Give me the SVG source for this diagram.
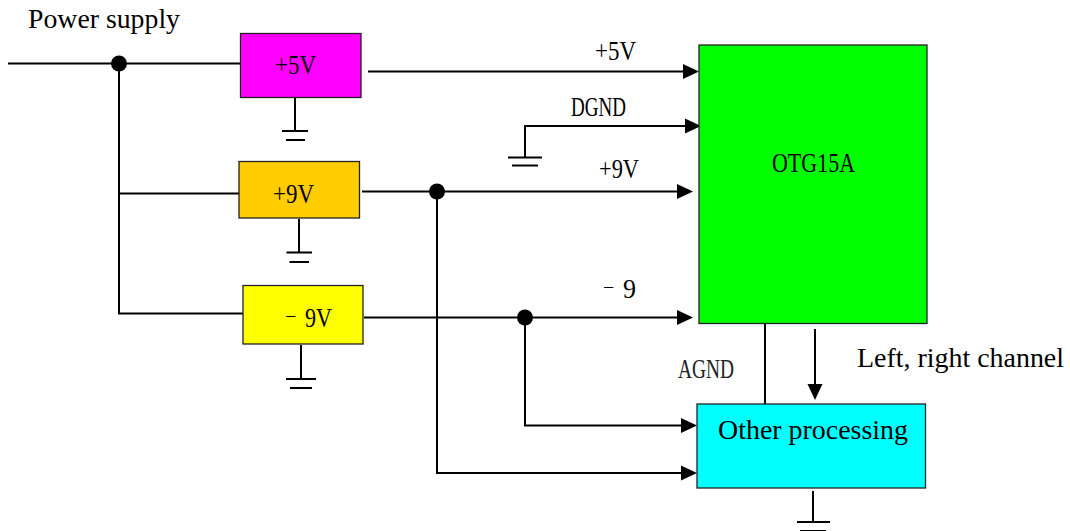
<svg xmlns="http://www.w3.org/2000/svg" width="1070" height="531" viewBox="0 0 1070 531">
<style>
.box{stroke:#222;stroke-width:1.3}
.w{fill:none;stroke:#000;stroke-width:2}
.d{fill:#000;stroke:none}
.a{fill:#000;stroke:none}
text{fill:#000;font-family:"Liberation Serif","Noto Sans CJK SC",serif}
.en{font-size:27.8px}
.cn{font-size:28px;font-weight:400}
.m{font-size:20px}
</style>
<rect width="1070" height="531" fill="#fff"/>
<g id="connectors">
<path class="w" d="M8 63.5H240M119 63.5V313.5H243M119 193.5H239"/>
<path class="w" d="M295 97V130M282 131H308M286 140H305"/>
<path class="w" d="M299 219V252M286.500 252.500H312M289.500 262H309"/>
<path class="w" d="M301 345V379M286 379H316M290 388H312"/>
<path class="w" d="M368 71.500H685"/>
<path class="a" d="M683 64L699 71.500L683 79Z"/>
<path class="w" d="M508 157.500H542M512 165.500H538M525 157.500V126H687"/>
<path class="a" d="M685 118.500L701 126L685 133.500Z"/>
<path class="w" d="M362 191.500H679"/>
<path class="a" d="M677 184L693 191.500L677 199Z"/>
<path class="w" d="M364 317.500H679"/>
<path class="a" d="M677 310L693 317.500L677 325Z"/>
<path class="w" d="M437 191.500V473H683"/>
<path class="a" d="M681 465.500L697 473L681 480.500Z"/>
<path class="w" d="M525 317.500V425.500H683"/>
<path class="a" d="M681 418L697 425.500L681 433Z"/>
<path class="w" d="M765 323V404"/>
<path class="w" d="M815 329V386"/>
<path class="a" d="M807.500 384L815 400L822.500 384Z"/>
<path class="w" d="M813 491V522M797 522H830M800 531H826"/>
<circle class="d" cx="119" cy="63.500" r="8"/>
<circle class="d" cx="437" cy="191.500" r="8"/>
<circle class="d" cx="525" cy="317.500" r="8"/>
</g>
<g id="label-power"><text class="en" x="28" y="28" textLength="152" lengthAdjust="spacingAndGlyphs">Power supply</text></g>
<g id="node-5v"><rect class="box" x="240.500" y="33.500" width="120.500" height="64" fill="#f0f"/><text class="cn" x="275" y="74" textLength="41" lengthAdjust="spacingAndGlyphs">+5V</text></g>
<g id="node-9v"><rect class="box" x="239" y="161.500" width="120.500" height="56.500" fill="#fc0"/><text class="cn" x="273" y="203" textLength="41" lengthAdjust="spacingAndGlyphs">+9V</text></g>
<g id="node-m9v"><rect class="box" x="243" y="285.500" width="120" height="58.500" fill="#ff0"/><text class="cn" x="285" y="327" xml:space="preserve"><tspan class="m" dy="-4">−</tspan> <tspan x="305" dy="4" textLength="27" lengthAdjust="spacingAndGlyphs">9V</tspan></text></g>
<g id="node-otg"><rect class="box" x="699" y="45" width="228" height="278.500" fill="#0f0"/><text class="cn" x="772" y="172" textLength="83" lengthAdjust="spacingAndGlyphs">OTG15A</text></g>
<g id="node-other"><rect class="box" x="697" y="404" width="228.500" height="84" fill="#0ff"/><text class="en" x="718" y="439" textLength="190" lengthAdjust="spacingAndGlyphs">Other processing</text></g>
<g id="labels">
<text class="cn" x="595" y="60" textLength="41" lengthAdjust="spacingAndGlyphs">+5V</text>
<text class="cn" x="571" y="116" textLength="55" lengthAdjust="spacingAndGlyphs">DGND</text>
<text class="cn" x="599" y="178" textLength="40" lengthAdjust="spacingAndGlyphs">+9V</text>
<text class="cn" x="603" y="298" xml:space="preserve"><tspan class="m" dy="-4">−</tspan> <tspan x="623" dy="4" textLength="13" lengthAdjust="spacingAndGlyphs">9</tspan></text>
<text class="cn" x="678" y="378" textLength="56" lengthAdjust="spacingAndGlyphs" style="fill:#222">AGND</text>
<text class="en" x="857" y="367" textLength="207" lengthAdjust="spacingAndGlyphs">Left, right channel</text>
</g>
</svg>
